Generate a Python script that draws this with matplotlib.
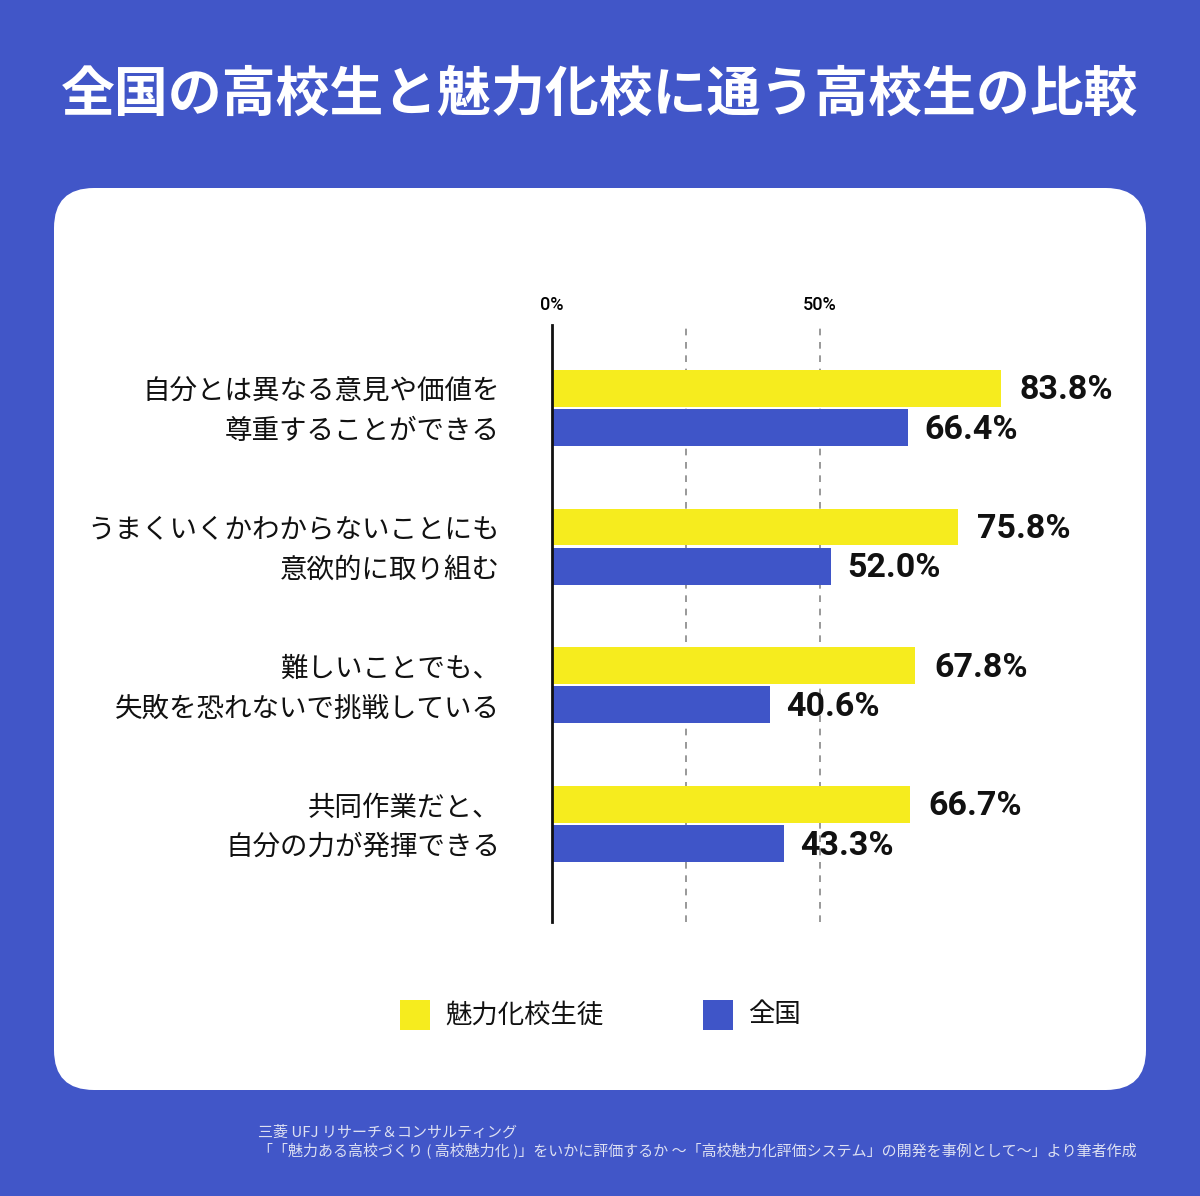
import matplotlib
matplotlib.use("Agg")
import matplotlib.pyplot as plt
from matplotlib.patches import FancyBboxPatch, Rectangle
from matplotlib.transforms import blended_transform_factory
import numpy as np

plt.rcParams['font.family'] = ['Noto Sans CJK JP', 'DejaVu Sans']

# ---- data ----
categories = [
    "自分とは異なる意見や価値を\n尊重することができる",
    "うまくいくかわからないことにも\n意欲的に取り組む",
    "難しいことでも、\n失敗を恐れないで挑戦している",
    "共同作業だと、\n自分の力が発揮できる",
]
series_names = ["魅力化校生徒", "全国"]
miryoku = [83.8, 75.8, 67.8, 66.7]
zenkoku = [66.4, 52.0, 40.6, 43.3]
tick_values = [0, 50]
tick_labels = ["0%", "50%"]
grid_values = [25, 50]
title = "全国の高校生と魅力化校に通う高校生の比較"
source_lines = [
    "三菱 UFJ リサーチ＆コンサルティング",
    "「「魅力ある高校づくり ( 高校魅力化 )」をいかに評価するか 〜「高校魅力化評価システム」の開発を事例として〜」より筆者作成",
]

BG = "#4156C8"
YEL = "#F6EC1E"
BLU = "#3F55C8"

W, H = 1200, 1196
fig = plt.figure(figsize=(W / 100, H / 100), dpi=100, facecolor=BG)

# background / decoration axes in pixel coords
bg = fig.add_axes([0, 0, 1, 1])
bg.set_xlim(0, W)
bg.set_ylim(H, 0)
bg.axis("off")
bg.patch.set_alpha(0)
bg.add_patch(FancyBboxPatch((54, 188), 1092, 902,
                            boxstyle="round,pad=0,rounding_size=40",
                            fc="white", ec="none"))
bg.text(600, 95, title, ha="center", va="center", color="white",
        fontsize=38.8, fontweight="bold")
# legend
bg.add_patch(Rectangle((400, 1000), 30, 30, fc=YEL, ec="none"))
bg.text(445, 1015, series_names[0], ha="left", va="center", fontsize=19,
        color="#111111")
bg.add_patch(Rectangle((703, 1000), 30, 30, fc=BLU, ec="none"))
bg.text(748, 1015, series_names[1], ha="left", va="center", fontsize=19,
        color="#111111")
# source
bg.text(258, 1132, source_lines[0], ha="left", va="center", fontsize=10.8,
        color="#DDE0F2")
bg.text(258, 1151, source_lines[1], ha="left", va="center", fontsize=10.8,
        color="#DDE0F2")

# main axes
left = 552 / W
width = 536 / W
bottom = 1 - 922 / H
top = 1 - 325 / H
ax = fig.add_axes([left, bottom, width, top - bottom])
ax.patch.set_alpha(0)
ax.set_xlim(0, 100)
ax.set_ylim(3.707, -0.598)

y = np.arange(len(categories))
h = 0.266
off = 0.141
ax.barh(y - off, miryoku, height=h, color=YEL, zorder=2)
ax.barh(y + off, zenkoku, height=h, color=BLU, zorder=2)

for gv in grid_values:
    ax.axvline(gv, color="#888888", lw=1.2, ls=(0, (4, 4)), zorder=1)

for yi, v in zip(y - off, miryoku):
    ax.text(v + 3.5, yi + 0.015, f"{v:.1f}%", ha="left", va="center", fontsize=24.5,
            fontweight="bold", family=["Roboto", "DejaVu Sans"], color="#111111")
for yi, v in zip(y + off, zenkoku):
    ax.text(v + 3.0, yi + 0.015, f"{v:.1f}%", ha="left", va="center", fontsize=24.5,
            fontweight="bold", family=["Roboto", "DejaVu Sans"], color="#111111")

for s in ["top", "right", "bottom"]:
    ax.spines[s].set_visible(False)
ax.spines["left"].set_linewidth(2)
ax.spines["left"].set_color("#111111")
ax.spines["left"].set_zorder(3)

ax.set_xticks(tick_values)
ax.set_xticklabels(tick_labels, fontsize=13, fontweight="medium",
                   family=["Roboto", "DejaVu Sans"])
ax.xaxis.tick_top()
ax.tick_params(axis="x", length=0, pad=8)

ax.set_yticks([])
trans = blended_transform_factory(ax.transAxes, ax.transData)
for yi, lab in zip(y, categories):
    ax.text(-52 / 536, yi + 0.028, lab, transform=trans, ha="right",
            va="center", fontsize=19.8, linespacing=1.6, color="#111111",
            multialignment="right")

fig.savefig("out.png", dpi=100, facecolor=BG)
